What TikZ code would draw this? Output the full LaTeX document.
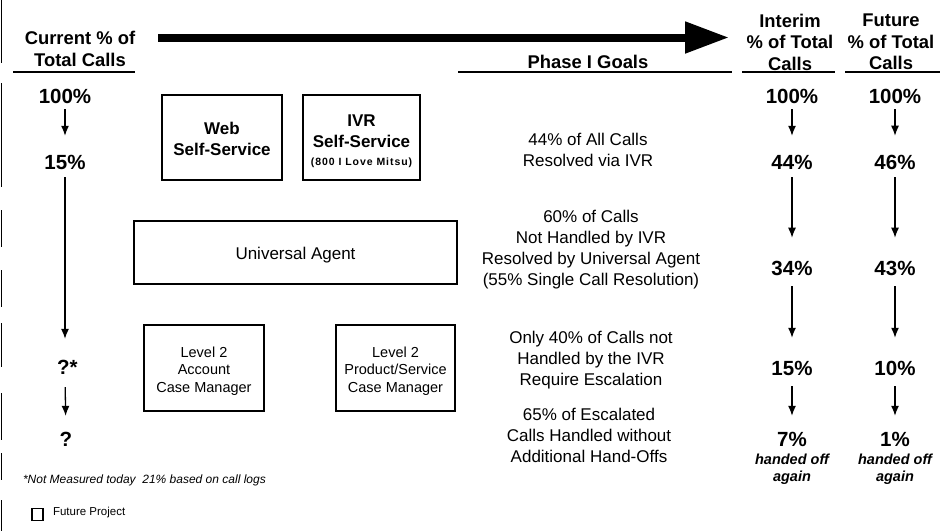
\documentclass[tikz,border=0pt]{standalone}
\usepackage{fontspec}
\setmainfont{Liberation Sans}
\usetikzlibrary{arrows.meta}

\newcommand\setfs[2]{\fontsize{#1}{#2}\selectfont}

\begin{document}
\begin{tikzpicture}[x=1pt,y=-1pt,
  every node/.style={inner sep=0pt, outer sep=0pt},
  hdr/.style={font=\setfs{18.4}{21.5}\bfseries, align=center},
  pct/.style={font=\setfs{20.5}{24}\bfseries},
  goal/.style={font=\setfs{17}{21}, align=center},
  unit/.style={draw, line width=1.8pt},
  unittext/.style={align=center},
  flow/.style={line width=1.3pt, -{Latex[length=10pt,width=8pt]}},
  rule/.style={line width=1.5pt},
  note/.style={font=\setfs{14.5}{17}\bfseries\itshape, align=center}
]
\useasboundingbox (0,0) rectangle (944,531);
\fill[white] (0,0) rectangle (944,531);

% broken page edge on the left
\foreach \a/\b in {0/63, 83/187, 210/247, 270/307, 323/367, 393/440, 453/480, 500/531}
  \draw[line width=1.4pt] (1.5,\a) -- (1.5,\b);

% column headings
\node[hdr] (hcur) at (80,49) {Current \% of\\Total Calls};
\node[hdr] (hgoal) at (588,62) {Phase I Goals};
\node[hdr] (hint) at (790,42) {Interim\\\% of Total\\Calls};
\node[hdr] (hfut) at (891,42) {Future\\\% of Total\\Calls};
\draw[rule] (13,72) -- (135,72);
\draw[rule] (458,72) -- (732,72);
\draw[rule] (742,72) -- (835,72);
\draw[rule] (845,72) -- (940,72);

% time line arrow
\coordinate (tl0) at (158,37.5);
\coordinate (tl1) at (729,37.5);
\draw[line width=8pt, -{Triangle[length=44pt,width=30pt]}] (tl0) -- (tl1);

% service units: frames, then their captions
\node[unit, minimum width=119.5pt, minimum height=85pt] (web) at (222,137.5) {};
\node[unit, minimum width=117pt, minimum height=85pt] (ivr) at (361.5,137.5) {};
\node[unit, minimum width=323pt, minimum height=63pt] (ua) at (295.5,252.5) {};
\node[unit, minimum width=119.5pt, minimum height=86pt] (acct) at (204,368) {};
\node[unit, minimum width=119pt, minimum height=86pt] (prod) at (395.5,368) {};

\node[unittext, font=\setfs{17}{21}\bfseries] (webt) at ([yshift=-1pt]web.center)
  {Web\\Self-Service};
\node[unittext, font=\setfs{17}{21}\bfseries] (ivrt) at ([yshift=-4pt]ivr.center)
  {IVR\\Self-Service\\[-3pt]{\setfs{10.5}{12}\addfontfeatures{LetterSpace=9}(800 I Love Mitsu)}};
\node[unittext, font=\setfs{17}{20}] (uat) at ([yshift=-3pt]ua.center) {Universal Agent};
\node[unittext, font=\setfs{14.5}{17.5}] (acctt) at ([yshift=-3pt]acct.center)
  {Level 2\\Account\\Case Manager};
\node[unittext, font=\setfs{14.5}{17.5}] (prodt) at ([yshift=-3pt]prod.center)
  {Level 2\\Product/Service\\Case Manager};

% phase I goals
\node[goal] (g1) at (588,150) {44\% of All Calls\\Resolved via IVR};
\node[goal] (g2) at (591,250) {60\% of Calls\\Not Handled by IVR\\Resolved by Universal Agent\\(55\% Single Call Resolution)};
\node[goal] (g3) at (591,360) {Only 40\% of Calls not\\Handled by the IVR\\Require Escalation};
\node[goal] (g4) at (589,435) {65\% of Escalated\\Calls Handled without\\Additional Hand-Offs};

% current percentages
\node[pct] (c100) at (65,96) {100\%};
\node[pct] (c15) at (65,162) {15\%};
\node[pct, anchor=west] (cq1) at (57,367) {?*};
\node[pct] (cq2) at (66,439) {?};
\draw[flow, shorten <=6pt, shorten >=19pt] (c100) -- (c15);
\draw[flow, shorten <=8pt, shorten >=21pt] (c15) -- (c15 |- cq1.north);
\draw[flow, shorten <=13pt, shorten >=16pt] (c15 |- cq1.south) -- (cq2);

% interim percentages
\node[pct] (i100) at (792,96) {100\%};
\node[pct] (i44) at (792,162) {44\%};
\node[pct] (i34) at (792,268) {34\%};
\node[pct] (i15) at (792,368) {15\%};
\node[pct] (i7) at (792,439) {7\%};
\node[note] (ih) at (792,469) {handed off\\again};
\draw[flow, shorten <=6pt, shorten >=19pt] (i100) -- (i44);
\draw[flow, shorten <=8pt, shorten >=23pt] (i44) -- (i34);
\draw[flow, shorten <=11pt, shorten >=23pt] (i34) -- (i15);
\draw[flow, shorten <=11pt, shorten >=16pt] (i15) -- (i7);

% future percentages
\node[pct] (f100) at (895,96) {100\%};
\node[pct] (f46) at (895,162) {46\%};
\node[pct] (f43) at (895,268) {43\%};
\node[pct] (f10) at (895,368) {10\%};
\node[pct] (f1) at (895,439) {1\%};
\node[note] (fh) at (895,469) {handed off\\again};
\draw[flow, shorten <=6pt, shorten >=19pt] (f100) -- (f46);
\draw[flow, shorten <=8pt, shorten >=23pt] (f46) -- (f43);
\draw[flow, shorten <=11pt, shorten >=23pt] (f43) -- (f10);
\draw[flow, shorten <=11pt, shorten >=16pt] (f10) -- (f1);

% footnote and legend
\node[anchor=west, font=\setfs{12}{14}\itshape] (foot) at (23,480)
  {*Not Measured today\ \ 21\% based on call logs};
\node[draw, line width=1.5pt, minimum width=11pt, minimum height=12pt] (legbox) at (37.5,514.5) {};
\node[anchor=west, font=\setfs{11.5}{14}] (legtxt) at (53,513) {Future Project};
\end{tikzpicture}
\end{document}
